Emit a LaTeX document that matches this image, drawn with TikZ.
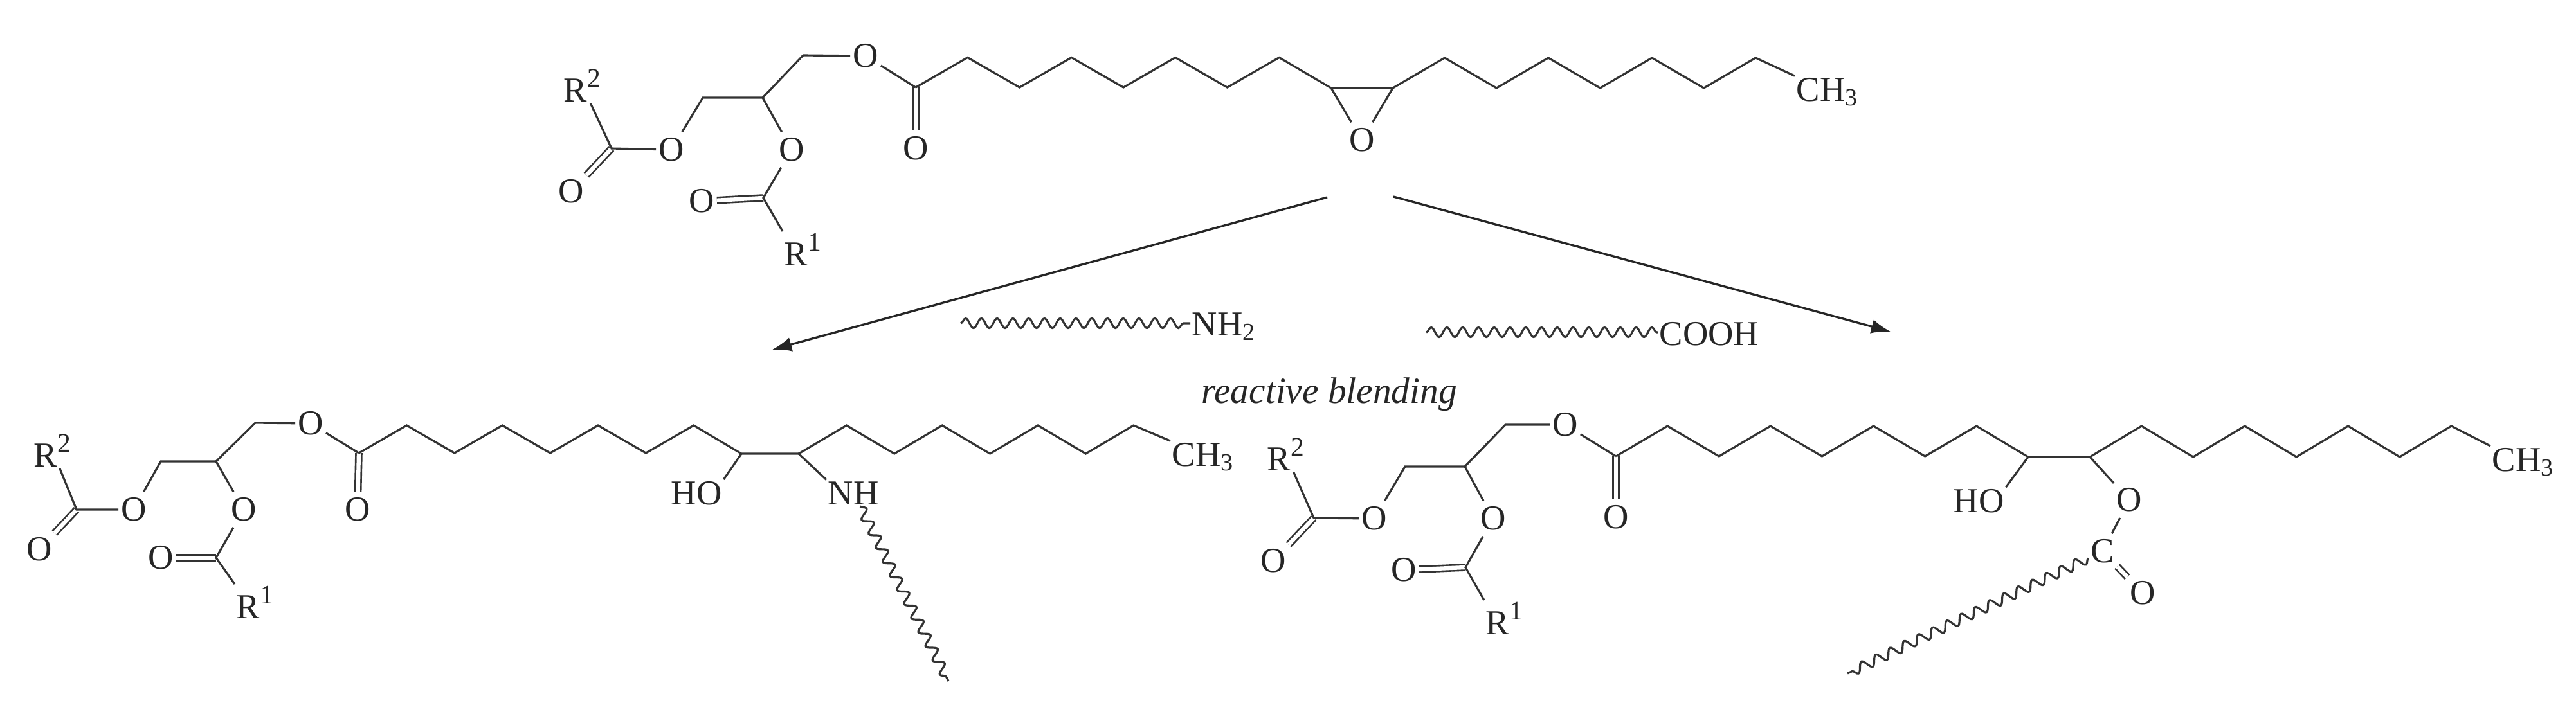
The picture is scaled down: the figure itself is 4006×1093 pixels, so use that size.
\documentclass[tikz,border=0pt]{standalone}
\usepackage{fontspec}
\setmainfont{Liberation Serif}
\usetikzlibrary{arrows.meta,decorations.pathmorphing}
\newcommand{\supnum}[1]{\raisebox{6.5pt}{\fontsize{11.8}{12}\selectfont #1}}
\begin{document}
\begin{tikzpicture}[x=0.01cm,y=-0.01cm,
        atom/.style={inner xsep=1pt,inner ysep=2.5pt,text=black!85,font=\fontsize{15.5}{18}\selectfont},
        label/.style={atom,inner sep=0.6pt,anchor=base west},
        bond/.style={line width=0.9pt,black!80},
        dbond/.style={line width=0.75pt,black!80,double,double distance=1.8pt},
        wave/.style={line width=0.9pt,black!80,decorate,decoration={snake,segment length=0.245cm,amplitude=0.075cm}},
        react/.style={line width=0.95pt,black!85,-{Latex[length=3mm,width=2.2mm]}}]
    \useasboundingbox (0,0) rectangle (4006,1093);
    % epoxidized oil
    \foreach \n/\x/\y in {O1/1044/233,Oa/888/298,O2/1231/233,Ob/1091/313,O3/1346/87,Oc/1424/231,Oe/2118/218}
        \node[atom] (A\n) at (\x,\y) {O};
    \foreach \n/\x/\y in {c1/951/231,m1/1093/152,m2/1186/152,c2/1187/308,m3/1249/86,c3/1424/136,e1/2070/137,e2/2166/137}
        \coordinate (A\n) at (\x,\y);
    \node[label] (AR2) at (874,158) {R\supnum{2}};
    \node[label] (AR1) at (1217,413) {R\supnum{1}};
    \node[label] (ACH) at (2791,157) {CH\textsubscript{3}};
    \draw[dbond] (Ac1) -- (AOa);
    \draw[dbond] (Ac2) -- (AOb);
    \draw[dbond] (Ac3) -- (AOc);
    \draw[bond] (AR2) -- (Ac1) -- (AO1) -- (Am1) -- (Am2) -- (AO2) -- (Ac2) -- (AR1.north west);
    \draw[bond] (Am2) -- (Am3) -- (AO3) -- (Ac3);
    \draw[bond] (Ac3) \foreach \k in {1,2,3} {-- ++(80.75,-46.5) -- ++(80.75,46.5)} -- ++(80.75,-46.5) -- (Ae1) -- (Ae2);
    \draw[bond] (AOe) -- (Ae1);
    \draw[bond] (AOe) -- (Ae2);
    \draw[bond] (Ae2) \foreach \k in {1,2,3} {-- ++(80.6,-47) -- ++(80.6,47)} -- ++(80.6,-47) -- (ACH.north west);
    % reaction
    \coordinate (Ta) at (2064,307);
    \coordinate (Tb) at (2167,306);
    \coordinate (Pa) at (1201,544);
    \coordinate (Pb) at (2940,516);
    \draw[react] (Ta) -- (Pa);
    \draw[react] (Tb) -- (Pb);
    \coordinate (Wa) at (1494,503);
    \coordinate (Wb) at (2218,517);
    \node[label] (NHtwo) at (1851,522) {NH\textsubscript{2}};
    \node[label] (COOH) at (2578,537) {COOH};
    \draw[wave] (Wa) -- (Wa -| NHtwo.west);
    \draw[wave] (Wb) -- (Wb -| COOH.west);
    \node[atom,anchor=base] (blend) at (2067,627) {\fontsize{16.3}{18}\selectfont\itshape reactive blending};
    % amine product
    \foreach \n/\x/\y in {O1/208/793,Oa/61/855,O2/379/793,Ob/250/868,O3/483/659,Oc/556/793}
        \node[atom] (B\n) at (\x,\y) {O};
    \foreach \n/\x/\y in {c1/119/793,m1/250/718,m2/336/718,c2/336/868,m3/397/658,c3/558/705,e1/1153/706,e2/1242/706}
        \coordinate (B\n) at (\x,\y);
    \node[label] (BR2) at (50,726) {R\supnum{2}};
    \node[label] (BR1) at (365,962) {R\supnum{1}};
    \node[label] (BCH) at (1820,725) {CH\textsubscript{3}};
    \node[label] (BHO) at (1041,785) {HO};
    \node[label] (BNH) at (1285,785) {NH};
    \coordinate (Bw) at (1475,1060);
    \draw[dbond] (Bc1) -- (BOa);
    \draw[dbond] (Bc2) -- (BOb);
    \draw[dbond] (Bc3) -- (BOc);
    \draw[bond] (BR2) -- (Bc1) -- (BO1) -- (Bm1) -- (Bm2) -- (BO2) -- (Bc2) -- (BR1.north west);
    \draw[bond] (Bm2) -- (Bm3) -- (BO3) -- (Bc3);
    \draw[bond] (Bc3) \foreach \k in {1,2,3} {-- ++(74.4,-43) -- ++(74.4,43)} -- ++(74.4,-43) -- (Be1) -- (Be2);
    \draw[bond] (BHO.north east) -- (Be1);
    \draw[bond] (Be2) -- (BNH.north west);
    \draw[bond] (Be2) \foreach \k in {1,2,3} {-- ++(74.4,-44) -- ++(74.4,44)} -- ++(74.4,-44) -- (BCH.north west);
    \draw[wave] (BNH) -- (Bw);
    % acid product
    \foreach \n/\x/\y in {O1/2137/807,Oa/1980/873,O2/2322/807,Ob/2183/887,O3/2434/661,Oc/2513/805,Od/3311/778,Of/3332/923}
        \node[atom] (C\n) at (\x,\y) {O};
    \foreach \n/\x/\y in {c1/2043/806,m1/2185/726,m2/2278/726,c2/2279/883,m3/2341/661,c3/2513/710,e1/3154/711,e2/3250/711}
        \coordinate (C\n) at (\x,\y);
    \node[label] (CR2) at (1968,732) {R\supnum{2}};
    \node[label] (CR1) at (2308,987) {R\supnum{1}};
    \node[label] (CCH) at (3873,733) {CH\textsubscript{3}};
    \node[label] (CHO) at (3035,797) {HO};
    \node[atom] (CC) at (3270,858) {C};
    \coordinate (Cw) at (2873,1048);
    \draw[dbond] (Cc1) -- (COa);
    \draw[dbond] (Cc2) -- (COb);
    \draw[dbond] (Cc3) -- (COc);
    \draw[dbond] (CC) -- (COf);
    \draw[bond] (CR2) -- (Cc1) -- (CO1) -- (Cm1) -- (Cm2) -- (CO2) -- (Cc2) -- (CR1.north west);
    \draw[bond] (Cm2) -- (Cm3) -- (CO3) -- (Cc3);
    \draw[bond] (Cc3) \foreach \k in {1,2,3} {-- ++(80.1,-47) -- ++(80.1,47)} -- ++(80.1,-47) -- (Ce1) -- (Ce2);
    \draw[bond] (CHO.north east) -- (Ce1);
    \draw[bond] (Ce2) -- (COd) -- (CC);
    \draw[bond] (Ce2) \foreach \k in {1,2,3} {-- ++(80.3,-48) -- ++(80.3,48)} -- ++(80.3,-48) -- (CCH.north west);
    \draw[wave] (CC) -- (Cw);
\end{tikzpicture}
\end{document}
